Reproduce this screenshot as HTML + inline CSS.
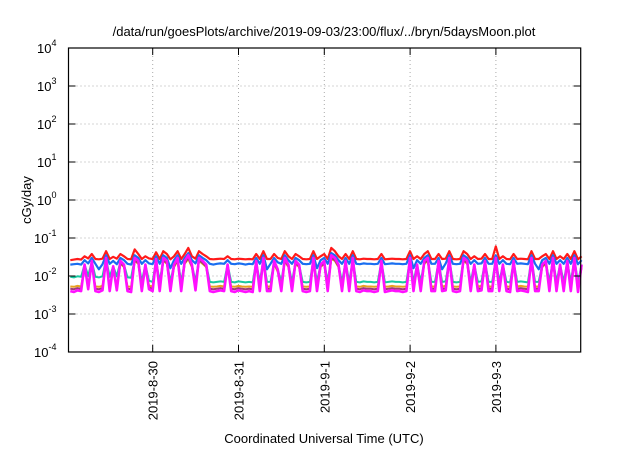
<!DOCTYPE html>
<html><head><meta charset="utf-8"><style>
body{margin:0;background:#fff;width:640px;height:448px;overflow:hidden}
svg text{font-family:"Liberation Sans",sans-serif;fill:#000}
</style></head><body>
<svg id="c" width="640" height="448">
<text x="324" y="36" font-size="13" text-anchor="middle">/data/run/goesPlots/archive/2019-09-03/23:00/flux/../bryn/5daysMoon.plot</text>
<text transform="translate(31,200) rotate(-90)" font-size="13" text-anchor="middle">cGy/day</text>
<text x="324" y="443" font-size="13" text-anchor="middle">Coordinated Universal Time (UTC)</text>
<g id="grid"></g><g id="series"></g><g id="axes"></g>
</svg>
<script>
// values in units of 1e-4 cGy/day, hourly
const yTickExps=[-4,-3,-2,-1,0,1,2,3,4];
const xTickLabels=["2019-8-30","2019-8-31","2019-9-1","2019-9-2","2019-9-3"];
const xTickDays=[0,1,2,3,4];
const startDay=-0.96, stepDays=1/24, unit=1e-4;
const magenta=[40,38,42,40,200,45,250,40,38,42,300,40,180,42,250,200,40,38,300,250,40,200,45,40,280,40,300,250,40,200,300,40,250,350,200,42,300,250,200,40,38,40,42,40,200,40,38,42,40,38,40,38,250,40,300,40,40,250,150,40,300,200,40,250,200,40,38,40,300,40,200,250,40,350,300,200,40,250,40,300,40,38,42,40,40,38,40,250,38,40,42,40,40,38,40,300,40,200,40,250,300,40,40,250,40,42,300,40,38,40,300,250,40,200,40,42,250,40,40,300,40,200,40,38,250,40,42,40,38,300,40,40,200,250,40,300,40,200,40,250,40,300,38,200];
const purple=[46,45,48,46,180,50,220,46,45,48,260,46,160,48,220,180,46,45,260,220,46,180,50,46,240,46,260,220,46,180,260,46,220,300,180,48,260,220,180,46,45,46,48,46,180,46,45,48,46,45,46,45,220,46,260,46,46,220,140,46,260,180,46,220,180,46,45,46,260,46,180,220,46,300,260,180,46,220,46,260,46,45,48,46,46,45,46,220,45,46,48,46,46,45,46,260,46,180,46,220,260,46,46,220,46,48,260,46,45,46,260,220,46,180,46,48,220,46,46,260,46,180,46,45,220,46,48,46,45,260,46,46,180,220,46,260,46,180,46,220,46,260,45,180];
const orange=[53,52,55,53,170,56,210,53,52,55,250,53,150,55,210,170,53,52,250,210,53,170,56,53,230,53,250,210,53,170,250,53,210,280,170,55,250,210,170,53,52,53,55,53,170,53,52,55,53,52,53,52,210,53,250,53,53,210,130,53,250,170,53,210,170,53,52,53,250,53,170,210,53,280,250,170,53,210,53,250,53,52,55,53,53,52,53,210,52,53,55,53,53,52,53,250,53,170,53,210,250,53,53,210,53,55,250,53,52,53,250,210,53,170,53,55,210,53,53,250,53,170,53,52,210,53,55,53,52,250,53,53,170,210,53,250,53,170,53,210,53,250,52,170];
const teal=[95,92,98,95,200,100,240,95,92,98,280,95,180,98,240,200,92,90,280,240,72,200,75,70,260,70,280,240,70,200,280,70,240,320,200,72,280,240,200,70,68,70,72,70,200,70,68,72,70,68,70,68,240,70,280,70,70,240,150,70,280,200,70,240,200,70,68,70,280,70,200,240,70,320,280,200,70,240,70,280,70,68,72,70,70,68,70,240,68,70,72,70,70,68,70,280,70,200,70,240,280,70,70,240,70,72,280,70,68,70,280,240,70,200,70,72,240,70,70,280,70,200,70,68,240,70,72,70,68,280,70,70,200,240,70,280,70,200,70,240,70,280,68,200];
const blue=[200,205,210,200,260,215,300,210,150,205,350,210,250,205,300,260,210,200,350,300,210,260,215,205,330,210,350,300,160,260,350,210,300,400,260,215,350,300,260,210,200,210,215,210,260,210,205,215,210,200,210,205,300,210,350,150,210,300,230,210,350,260,210,300,260,210,205,210,350,160,260,300,210,400,350,260,210,300,210,350,210,205,215,210,210,205,210,300,205,210,215,210,210,205,210,350,160,260,210,300,350,210,210,300,150,215,350,210,205,210,350,300,210,260,210,215,300,210,210,350,210,260,210,205,300,210,215,210,205,350,210,150,260,300,210,350,210,260,210,300,210,350,205,260];
const red=[260,270,280,270,330,290,380,280,275,285,450,280,320,285,380,330,280,275,500,380,280,330,290,280,420,280,450,380,275,330,450,280,380,550,330,285,450,380,330,280,275,280,285,280,330,280,275,285,280,275,280,275,380,280,450,280,280,380,300,280,450,330,280,380,330,280,275,280,450,280,330,380,280,550,450,330,280,380,280,450,280,275,285,280,280,275,280,380,275,280,285,280,280,275,280,450,280,330,280,380,450,280,280,380,280,285,450,280,275,280,450,380,280,330,280,285,380,280,280,600,280,330,280,275,380,280,285,280,275,450,280,280,330,380,280,450,280,330,280,380,280,450,275,330];
const L=68.5,R=580.7,T=48,B=352;
const dayPx=85.8, x0=152.7;
const X=d=>x0+d*dayPx;
const Y=v=>B-(Math.log10(v)+4)*38;
const NS="http://www.w3.org/2000/svg";
function mk(tag,attrs,parent){const e=document.createElementNS(NS,tag);for(const k in attrs)e.setAttribute(k,attrs[k]);parent.appendChild(e);return e;}
const grid=document.getElementById('grid'),ax=document.getElementById('axes'),sg=document.getElementById('series');
yTickExps.forEach(e=>{const y=B-(e+4)*38;
 if(e>-4&&e<4){const g=mk('line',{x1:L,x2:R,y1:y,y2:y,stroke:'#aaa','stroke-width':1,'stroke-dasharray':'1,3'},grid);
 
 }
 const t1=mk('line',{x1:L,x2:L+7,y1:y,y2:y,stroke:'#000'},ax);
 
 
 const t2=mk('line',{x1:R-7,x2:R,y1:y,y2:y,stroke:'#000'},ax);
 
 
 const tx=mk('text',{x:L-12,y:y+5,'font-size':13,'text-anchor':'end'},ax);
 
 
 tx.textContent='10';const s=mk('tspan',{dy:-7,'font-size':9},tx);s.textContent=String(e);
});
xTickDays.forEach((d,i)=>{const x=X(d);
 const g=mk('line',{x1:x,x2:x,y1:T,y2:B,stroke:'#aaa','stroke-width':1,'stroke-dasharray':'1,3'},grid);
 
 
 const t1=mk('line',{x1:x,x2:x,y1:B,y2:B-7,stroke:'#000'},ax);
 
 
 const t2=mk('line',{x1:x,x2:x,y1:T,y2:T+7,stroke:'#000'},ax);
 
 
 const tx=mk('text',{transform:`translate(${x+5},${B+9}) rotate(-90)`,'font-size':13,'text-anchor':'end'},ax);
 
 
 tx.textContent=xTickLabels[i];
});
const fr=mk('rect',{x:L,y:T,width:R-L,height:B-T,fill:'none',stroke:'#000','stroke-width':1.2},ax);


const S=[["red-series",red,"#ff1a1a",2.2],["blue-series",blue,"#1a6ef0",2.2],["teal-series",teal,"#1ac8a0",2],["orange-series",orange,"#e8a020",2],["purple-series",purple,"#a03c78",2],["magenta-series",magenta,"#ff10ff",2.6]];
S.forEach(([n,arr,c,w])=>{const pts=arr.map((v,i)=>X(startDay+i*stepDays).toFixed(1)+','+Y(v*unit).toFixed(1)).join(' ');
 const p=mk('polyline',{points:pts,fill:'none',stroke:c,'stroke-width':w,'stroke-linejoin':'round'},sg);
 
 
});
</script>
</body></html>
